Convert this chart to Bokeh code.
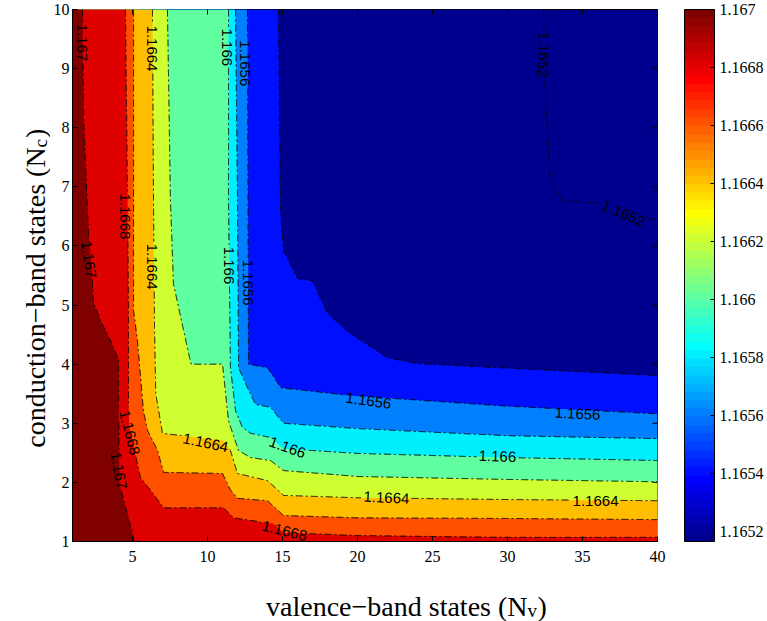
import numpy as np
from bokeh.plotting import figure
from bokeh.layouts import column, row
from bokeh.models import (ColumnDataSource, ColorBar, LinearColorMapper, FixedTicker,
                          CustomJSTickFormatter, Label, Range1d)
from bokeh.core.properties import value
from bokeh.embed import file_html
from bokeh.resources import INLINE

# ---------------- data ----------------
x_lo, x_hi = 1, 40
y_lo, y_hi = 1, 10

levels = [1.1652, 1.1654, 1.1656, 1.1658, 1.166, 1.1662, 1.1664, 1.1666, 1.1668, 1.167]

c1652_x = [32.4, 32.53, 32.87, 33.73, 36.4, 39.33, 40]
c1652_y = [10, 8.46, 7.1, 6.76, 6.72, 6.46, 6.43]

c1654_x = [14.73, 14.87, 15.07, 16.0, 17.0, 18.0, 19.53, 22.0, 24.0, 30.2, 40]
c1654_y = [10, 6.6, 5.92, 5.45, 5.41, 4.86, 4.52, 4.11, 4.01, 3.93, 3.81]

c1656_x = [12.67, 12.73, 14.0, 14.9, 16.0, 19.5, 30.0, 40]
c1656_y = [10, 4.0, 3.94, 3.6, 3.57, 3.47, 3.29, 3.16]

c1658_x = [11.87, 12.0, 12.07, 12.67, 13.2, 14.2, 15.07, 20, 30, 40]
c1658_y = [10, 6.77, 3.94, 3.6, 3.32, 3.27, 3.0, 2.91, 2.79, 2.74]

c1660_x = [11.4, 11.4, 11.53, 11.87, 12.33, 12.87, 14.2, 15.07, 20, 30, 40]
c1660_y = [10, 6.77, 3.94, 3.21, 2.93, 2.83, 2.76, 2.57, 2.49, 2.42, 2.37]

c1662_x = [7.33, 7.53, 7.73, 8.9, 11.0, 11.4, 12.07, 12.87, 14.2, 15.07, 20, 30, 40]
c1662_y = [10, 6.77, 5.36, 4.0, 4.0, 3.04, 2.54, 2.42, 2.37, 2.2, 2.10, 2.05, 2.01]

c1664_x = [6.33, 6.4, 6.47, 6.55, 7.0, 11.07, 11.53, 12.0, 14.0, 15.07, 20, 30, 40]
c1664_y = [10, 6.77, 4.6, 3.5, 2.83, 2.71, 2.54, 2.15, 2.03, 1.78, 1.74, 1.71, 1.69]

c1666_x = [5.07, 5.07, 5.07, 5.33, 5.73, 6.0, 6.67, 7.07, 11.0, 11.53, 12.0, 14.0, 15.07, 20, 30, 40]
c1666_y = [10, 6.77, 4.91, 4.4, 3.21, 2.88, 2.54, 2.17, 2.15, 1.87, 1.73, 1.69, 1.44, 1.40, 1.39, 1.37]

c1668_x = [4.53, 4.67, 4.73, 4.73, 4.8, 5.53, 6.07, 7.07, 11.07, 11.73, 14.4, 15.07, 20, 30, 40]
c1668_y = [10, 6.77, 4.9, 3.3, 2.93, 2.08, 1.91, 1.57, 1.57, 1.40, 1.30, 1.15, 1.10, 1.07, 1.07]

c1670_x = [1.67, 1.73, 2.0, 2.07, 2.27, 2.4, 2.87, 3.53, 4.07, 4.07, 4.13, 5.0, 5.1]
c1670_y = [10, 8.2, 6.6, 6.21, 5.63, 5.03, 4.74, 4.40, 4.07, 3.38, 1.98, 1.13, 1.0]

contour_x = [c1652_x, c1654_x, c1656_x, c1658_x, c1660_x, c1662_x, c1664_x, c1666_x, c1668_x, c1670_x]
contour_y = [c1652_y, c1654_y, c1656_y, c1658_y, c1660_y, c1662_y, c1664_y, c1666_y, c1668_y, c1670_y]

label_text = ["1.167", "1.1664", "1.166", "1.1656", "1.1652", "1.1668", "1.167", "1.1664",
              "1.166", "1.1656", "1.1668", "1.167", "1.1664", "1.166", "1.1664", "1.1668",
              "1.1656", "1.166", "1.1664", "1.1656", "1.1652"]
label_x = [1.6, 6.27, 11.27, 12.53, 32.4, 4.47, 2.07, 6.33, 11.4, 12.67, 4.8, 4.07,
           9.87, 15.33, 21.93, 15.13, 20.73, 29.33, 35.87, 34.67, 37.73]
label_y = [9.44, 9.34, 9.36, 9.09, 9.24, 6.5, 5.77, 5.65, 5.67, 5.38, 2.84, 2.2,
           2.67, 2.59, 1.74, 1.18, 3.38, 2.44, 1.69, 3.16, 6.55]
label_angle = [-90, -90, -90, -90, -90, -90, -82, -90, -90, -90, -76, -80,
               -12, -20, -3, -14, -8, -2, 0, -3, -24]

x_ticks = [5, 10, 15, 20, 25, 30, 35, 40]
y_ticks = [1, 2, 3, 4, 5, 6, 7, 8, 9, 10]
cbar_ticks = [1.1652, 1.1654, 1.1656, 1.1658, 1.166, 1.1662, 1.1664, 1.1666, 1.1668, 1.167]
cbar_low, cbar_high = 1.165164, 1.167

# ---------------- style ----------------
def jet(m=64):
    n = int(np.ceil(m / 4))
    u = np.concatenate([np.arange(1, n + 1) / n, np.ones(n - 1), np.arange(n, 0, -1) / n])
    g = int(np.ceil(n / 2)) - (1 if m % 4 == 1 else 0) + np.arange(1, len(u) + 1)
    r = g + n
    b = g - n
    J = np.zeros((m, 3))
    for idx, col in ((r, 0), (g, 1), (b, 2)):
        mask = (idx >= 1) & (idx <= m)
        J[idx[mask] - 1, col] = u[mask]
    return ['#%02x%02x%02x' % tuple(int(round(v * 255)) for v in row) for row in J]

jet64 = jet(64)
band_idx = [0, 8, 15, 22, 29, 36, 43, 50, 57, 63]   # colour of region above each level
fill_colors = [jet64[i] for i in band_idx]
serif = "Liberation Serif"
sans = "Liberation Sans"
label_px = 15

FRAME_W, FRAME_H = 585, 532
YPANEL_W = 50
MAIN_H = 571
XPANEL_H = 621 - MAIN_H

p = figure(width=767 - YPANEL_W, height=MAIN_H, x_range=Range1d(x_lo, x_hi),
           y_range=Range1d(y_lo, y_hi), output_backend="svg", toolbar_location=None,
           min_border_left=72 - YPANEL_W, min_border_right=110, min_border_top=9,
           min_border_bottom=MAIN_H - 9 - FRAME_H)
p.background_fill_color = jet64[0]
p.border_fill_color = "white"
p.outline_line_color = "black"
p.outline_line_width = 1
p.grid.visible = False

# filled regions (region above each level lies toward the lower-left corner)
xs, ys = [], []
for cx, cy in zip(contour_x, contour_y):
    px, py = list(cx), list(cy)
    if py[-1] > y_lo:
        px += [x_hi, x_lo, x_lo]
        py += [y_lo, y_lo, y_hi]
    else:
        px += [x_lo, x_lo]
        py += [y_lo, y_hi]
    xs.append(px)
    ys.append(py)
p.patches(xs, ys, fill_color=fill_colors, line_color=None)

# contour lines, with gaps where the inline labels sit
sx = FRAME_W / (x_hi - x_lo)
sy = FRAME_H / (y_hi - y_lo)

def text_w(t):
    return sum(0.278 if ch == "." else 0.556 for ch in t) * label_px

def gapped(cx, cy):
    X, Y = [], []
    for i in range(len(cx) - 1):
        x0, y0, x1, y1 = cx[i], cy[i], cx[i + 1], cy[i + 1]
        n = max(2, int(np.hypot((x1 - x0) * sx, (y1 - y0) * sy) / 0.5))
        t = np.linspace(0, 1, n, endpoint=False)
        X.extend(x0 + (x1 - x0) * t)
        Y.extend(y0 + (y1 - y0) * t)
    X.append(cx[-1])
    Y.append(cy[-1])
    X = np.array(X, float)
    Y = np.array(Y, float)
    cut = np.zeros(len(X), bool)
    for lx, ly, lt, la in zip(label_x, label_y, label_text, label_angle):
        a = np.deg2rad(la)
        dx = (X - lx) * sx
        dy = (Y - ly) * sy
        u = dx * np.cos(a) + dy * np.sin(a)
        v = -dx * np.sin(a) + dy * np.cos(a)
        cut |= (np.abs(u) < text_w(lt) / 2 + 2) & (np.abs(v) < 8)
    X[cut] = np.nan
    Y[cut] = np.nan
    return X.tolist(), Y.tolist()

line_xs, line_ys = [], []
for cx, cy in zip(contour_x, contour_y):
    gx, gy = gapped(cx, cy)
    line_xs.append(gx)
    line_ys.append(gy)
p.multi_line(line_xs, line_ys, line_color="black", line_width=1, line_dash="7 3 2 3")

# contour labels
src = ColumnDataSource(dict(x=label_x, y=label_y, t=label_text, a=label_angle))
p.text(x="x", y="y", text="t", angle="a", angle_units="deg", source=src,
       text_font=value(sans), text_font_size=value("%dpx" % label_px), text_color="black",
       text_align="center", text_baseline="middle")

# axes
for ax in (p.xaxis[0], p.yaxis[0]):
    ax.major_tick_in = 5
    ax.major_tick_out = 0
    ax.minor_tick_line_color = None
    ax.axis_line_color = "black"
    ax.major_tick_line_color = "black"
    ax.major_label_text_font = serif
    ax.major_label_text_font_size = "16px"
    ax.major_label_text_color = "black"
p.xaxis[0].ticker = FixedTicker(ticks=x_ticks)
p.yaxis[0].ticker = FixedTicker(ticks=y_ticks)
p.xaxis[0].major_label_standoff = 9
p.yaxis[0].major_label_standoff = 3

# inner tick marks on the top and right edges of the box
p.ray(x=x_ticks, y=[y_hi] * len(x_ticks), length=5, length_units="screen",
      angle=-np.pi / 2, line_color="black", line_width=1)
p.ray(x=[x_hi] * len(y_ticks), y=y_ticks, length=5, length_units="screen",
      angle=np.pi, line_color="black", line_width=1)

# colour bar
mapper = LinearColorMapper(palette=jet64, low=cbar_low, high=cbar_high)
cb = ColorBar(color_mapper=mapper, ticker=FixedTicker(ticks=cbar_ticks),
              formatter=CustomJSTickFormatter(code="return tick.toFixed(4).replace(/0+$/, '')"),
              width=30, height=FRAME_H, padding=0, margin=0, label_standoff=5,
              major_tick_in=4, major_tick_out=0, major_tick_line_color="black",
              minor_tick_line_color=None, bar_line_color="black",
              major_label_text_font=serif, major_label_text_font_size="16px",
              major_label_text_color="black",
              background_fill_alpha=0, border_line_color=None, location=(27, 0))
p.add_layout(cb, "right")

# axis titles (with subscripts) in two small text panels
def text_panel(w, h):
    f = figure(width=w, height=h, x_range=Range1d(0, w), y_range=Range1d(0, h),
               output_backend="svg", toolbar_location=None, x_axis_type=None,
               y_axis_type=None, min_border=0, title=None)
    f.grid.visible = False
    f.outline_line_color = None
    f.background_fill_color = "white"
    f.border_fill_color = "white"
    return f

yp = text_panel(YPANEL_W, MAIN_H)
yb, yn = 35, MAIN_H - 148
yp.add_layout(Label(x=yb, y=yn, text="conduction\u2212band states (N", angle=np.pi / 2,
                    text_align="right", text_baseline="alphabetic", text_font=serif,
                    text_font_size="28px", text_color="black"))
yp.add_layout(Label(x=yb + 5, y=yn, text="c", angle=np.pi / 2, text_align="left",
                    text_baseline="alphabetic", text_font=serif, text_font_size="19px",
                    text_color="black"))
yp.add_layout(Label(x=yb, y=yn + 10, text=")", angle=np.pi / 2, text_align="left",
                    text_baseline="alphabetic", text_font=serif, text_font_size="28px",
                    text_color="black"))

xp = text_panel(767, XPANEL_H)
xe, xb = 527, XPANEL_H - (606 - MAIN_H)
xp.add_layout(Label(x=xe, y=xb, text="valence\u2212band states (N", text_align="right",
                    text_baseline="alphabetic", text_font=serif, text_font_size="28px",
                    text_color="black"))
xp.add_layout(Label(x=xe, y=xb - 4, text="v", text_align="left",
                    text_baseline="alphabetic", text_font=serif, text_font_size="19px",
                    text_color="black"))
xp.add_layout(Label(x=xe + 10, y=xb, text=")", text_align="left",
                    text_baseline="alphabetic", text_font=serif, text_font_size="28px",
                    text_color="black"))

layout = column(row(yp, p, spacing=0), xp, spacing=0)
open("out.html", "w").write(file_html(layout, INLINE))
